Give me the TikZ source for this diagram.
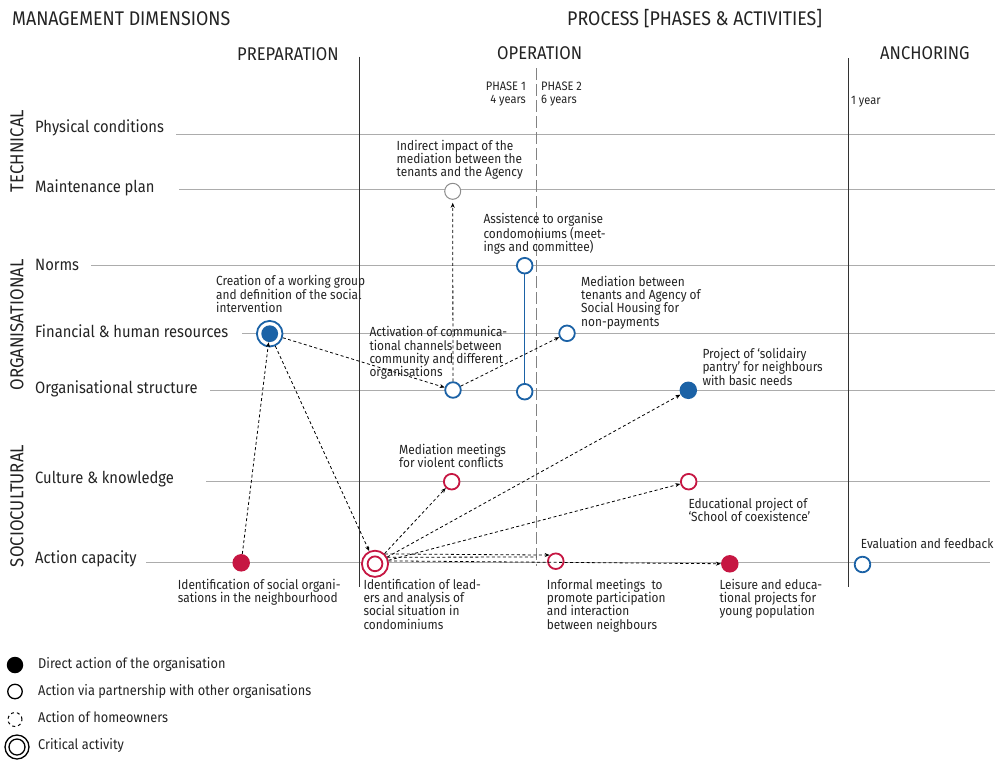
\documentclass[tikz,border=0pt]{standalone}
\usepackage{fontspec}
\setmainfont{Fira Sans}[FakeStretch=0.9]
\usetikzlibrary{arrows.meta,calc}
\definecolor{cblue}{RGB}{27,98,166}
\definecolor{cred}{RGB}{198,22,66}
\definecolor{cgrid}{RGB}{172,172,172}
\definecolor{ctxt}{RGB}{35,35,35}
\definecolor{cphase}{RGB}{130,130,130}
\begin{document}
\begin{tikzpicture}[x=1pt,y=-1pt,
  gridline/.style={draw=cgrid,line width=1pt},
  sepline/.style={draw=black!80,line width=1pt},
  phaseline/.style={draw=cphase,line width=1.4pt,dash pattern=on 12pt off 4pt},
  head/.style={font=\fontsize{19.8}{22}\selectfont,text=ctxt,inner sep=0pt,anchor=base west},
  subhead/.style={font=\fontsize{18.4}{21}\selectfont,text=ctxt,inner sep=0pt,anchor=base west},
  dimlbl/.style={font=\fontsize{18.7}{21}\selectfont,text=ctxt,inner sep=0pt,rotate=90},
  rowlbl/.style={font=\fontsize{16.4}{19}\selectfont,text=ctxt,inner sep=0pt,anchor=base west},
  lbl/.style={font=\fontsize{13.2}{13.4}\selectfont,text=ctxt,align=left,inner sep=0pt,anchor=base west},
  phlbl/.style={font=\fontsize{12.3}{13}\selectfont,text=ctxt,inner sep=0pt},
  legtxt/.style={font=\fontsize{14.2}{16}\selectfont,text=ctxt,inner sep=0pt,anchor=base west},
  openb/.style={circle,draw=cblue,line width=1.8pt,fill=white,minimum size=15.6pt,inner sep=0pt},
  fillb/.style={circle,fill=cblue,minimum size=17.5pt,inner sep=0pt},
  openr/.style={circle,draw=cred,line width=1.8pt,fill=white,minimum size=15.6pt,inner sep=0pt},
  fillr/.style={circle,fill=cred,minimum size=17.5pt,inner sep=0pt},
  opengray/.style={circle,draw=black!45,line width=1pt,fill=white,minimum size=16pt,inner sep=0pt},
  arr/.style={-{Stealth[length=5pt,width=4pt]},draw=black,line width=0.8pt,dash pattern=on 3pt off 2.5pt},
  dline/.style={draw=black,line width=0.8pt,dash pattern=on 3pt off 2.5pt}
]
\useasboundingbox (0,0) rectangle (995,761);

% headers
\node[head] (hmd) at (12,25) {MANAGEMENT DIMENSIONS};
\node[head] (hproc) at (567,25) {PROCESS [PHASES \& ACTIVITIES]};
\node[subhead] (hprep) at (237,60) {PREPARATION};
\node[subhead] (hop) at (497,59) {OPERATION};
\node[subhead] (hanc) at (880,59) {ANCHORING};
\node[phlbl,anchor=base east] (ph1) at (526,90.5) {PHASE 1};
\node[phlbl,anchor=base east] (ph1y) at (526,103) {4 years};
\node[phlbl,anchor=base west] (ph2) at (541,90.5) {PHASE 2};
\node[phlbl,anchor=base west] (ph2y) at (541,103) {6 years};
\node[phlbl,anchor=base west] (anc1) at (851,104) {1 year};

% dimension labels
\node[dimlbl] (dtech) at (17,151) {TECHNICAL};
\node[dimlbl] (dorg) at (17,325) {ORGANISATIONAL};
\node[dimlbl] (dsoc) at (17,506) {SOCIOCULTURAL};

% row labels
\node[rowlbl] (rphys) at (35,132.8) {Physical conditions};
\node[rowlbl] (rmaint) at (35,192) {Maintenance plan};
\node[rowlbl] (rnorms) at (35,270.3) {Norms};
\node[rowlbl] (rfin) at (35,337) {Financial \& human resources};
\node[rowlbl] (rorg) at (35,393.3) {Organisational structure};
\node[rowlbl] (rcult) at (35,483.6) {Culture \& knowledge};
\node[rowlbl] (ract) at (35,563.6) {Action capacity};

% grid lines
\coordinate (g1a) at (176,134.3); \coordinate (g1b) at (995,134.3);
\coordinate (g2a) at (179,189); \coordinate (g2b) at (995,189);
\coordinate (g3a) at (91,265.3); \coordinate (g3b) at (995,265.3);
\coordinate (g4a) at (242,333); \coordinate (g4b) at (995,333);
\coordinate (g5a) at (210,390); \coordinate (g5b) at (995,390);
\coordinate (g6a) at (206,481); \coordinate (g6b) at (990,481);
\coordinate (g7a) at (146,562.7); \coordinate (g7b) at (990,562.7);
\draw[gridline] (g1a) -- (g1b);
\draw[gridline] (g2a) -- (g2b);
\draw[gridline] (g3a) -- (g3b);
\draw[gridline] (g4a) -- (g4b);
\draw[gridline] (g5a) -- (g5b);
\draw[gridline] (g6a) -- (g6b);
\draw[gridline] (g7a) -- (g7b);

% phase separators
\coordinate (s1a) at (359.3,56.7); \coordinate (s1b) at (359.3,587);
\coordinate (s2a) at (848.3,58.3); \coordinate (s2b) at (848.3,587);
\coordinate (s3a) at (536.7,68); \coordinate (s3b) at (536.7,566);
\draw[sepline] (s1a) -- (s1b);
\draw[sepline] (s2a) -- (s2b);
\draw[phaseline] (s3a) -- (s3b);

% activity circles
\node[opengray] (ind) at (452.7,191.3) {};
\node[openb] (asst) at (524.7,265.7) {};
\node[openb] (assb) at (524.7,391.7) {};
\draw[draw=cblue,line width=1pt] (asst) -- (assb);
\node[openb] (medten) at (567,333.3) {};
\node[openb] (act) at (453,390) {};
\node[fillb] (pantry) at (688.3,390.3) {};
\node[openr] (medmeet) at (451.7,481.7) {};
\node[openr] (edu) at (688.7,481.7) {};
\node[fillr] (orgs) at (241.2,562.8) {};
\node[openr] (inf) at (555.8,561.2) {};
\node[fillr] (leis) at (729.8,563.8) {};
\node[openb] (evalc) at (862.5,564.5) {};
\node[circle,draw=cblue,line width=1.8pt,fill=white,minimum size=25.6pt,inner sep=0pt] (cw) at (269.7,333.7) {};
\node[fillb,minimum size=16.8pt] (cwin) at (269.7,333.7) {};
\node[circle,draw=cred,line width=1.8pt,fill=white,minimum size=26.2pt,inner sep=0pt] (lead) at (375,563.8) {};
\node[openr,minimum size=14.8pt] (leadin) at (375,563.8) {};

% connectors
\draw[arr] (cw) -- (act);
\draw[arr,shorten >=3pt] (act) -- (ind);
\draw[arr] (act) -- (medten);
\draw[arr] (orgs) -- (cwin);
\draw[arr] (cw) -- (lead);
\draw[arr] (lead) -- (medmeet);
\draw[arr] (lead) -- (pantry);
\draw[arr] (lead) -- (edu);
\coordinate (midend) at (536.7,557);
\draw[arr] (lead.45) -- (inf.135);
\draw[dline] (lead.28) -- (midend);
\draw[arr] (lead.12) -- (leis);

% labels (anchored at the baseline of the last line)
\node[lbl] (tind) at (396.5,176.8) {Indirect impact of the\\mediation between the\\tenants and the Agency};
\node[lbl] (tass) at (483.3,251.8) {Assistence to organise\\condomoniums (meet-\\ings and committee)};
\node[lbl] (tcw) at (216,312.5) {Creation of a working group\\and definition of the social\\intervention};
\node[lbl] (tmedten) at (581,326.2) {Mediation between\\tenants and Agency of\\Social Housing for\\non-payments};
\node[lbl] (tact) at (369.3,376.9) {Activation of communica-\\tional channels between\\community and different\\organisations};
\node[lbl] (tpantry) at (702.3,385.1) {Project of ‘solidairy\\pantry’ for neighbours\\with basic needs};
\node[lbl] (tmedmeet) at (399,467.7) {Mediation meetings\\for violent conflicts};
\node[lbl] (tedu) at (688.3,521.7) {Educational project of\\‘School of coexistence’};
\node[lbl] (teval) at (860.7,548.3) {Evaluation and feedback};
\node[lbl] (torgs) at (177.7,602.4) {Identification of social organi-\\sations in the neighbourhood};
\node[lbl] (tlead) at (363.3,629.2) {Identification of lead-\\ers and analysis of\\social situation in\\condominiums};
\node[lbl] (tinf) at (546.7,629.2) {Informal meetings~ to\\promote participation\\and interaction\\between neighbours};
\node[lbl] (tleis) at (719.3,615.8) {Leisure and educa-\\tional projects for\\young population};

% legend
\node[circle,fill=black,minimum size=16.5pt,inner sep=0pt] (lg1) at (15,665) {};
\node[circle,draw=black,line width=1.3pt,minimum size=14.5pt,inner sep=0pt] (lg2) at (15,691.5) {};
\node[circle,draw=black,line width=1pt,dash pattern=on 3pt off 3pt,minimum size=14pt,inner sep=0pt] (lg3) at (15,719.5) {};
\node[circle,draw=black,line width=1.3pt,minimum size=24pt,inner sep=0pt] (lg4) at (17,747) {};
\node[circle,draw=black,line width=1.3pt,minimum size=16pt,inner sep=0pt] (lg4in) at (17,747) {};
\node[legtxt] (lt1) at (38,668.3) {Direct action of the organisation};
\node[legtxt] (lt2) at (38,695.3) {Action via partnership with other organisations};
\node[legtxt] (lt3) at (38,722) {Action of homeowners};
\node[legtxt] (lt4) at (38,749) {Critical activity};
\end{tikzpicture}
\end{document}
